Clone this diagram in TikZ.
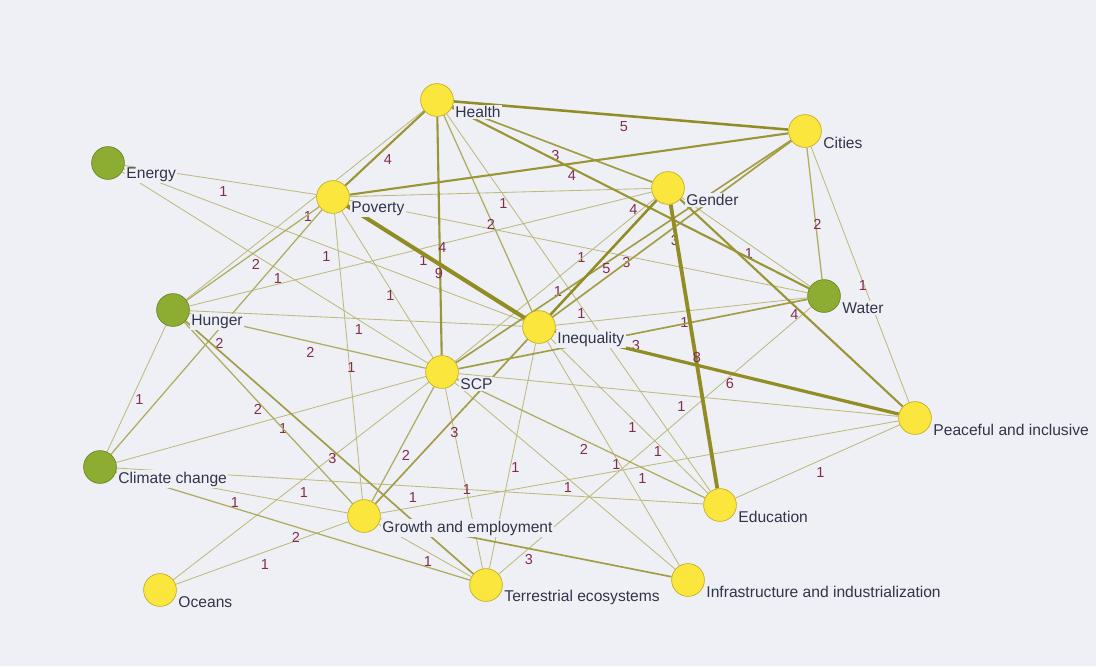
\documentclass[tikz,border=0pt]{standalone}
\usepackage{fontspec}
\setmainfont{Liberation Sans}
\usetikzlibrary{positioning}

\definecolor{bgcol}{RGB}{239,240,245}
\definecolor{edgecol}{RGB}{145,140,35}
\definecolor{nodey}{RGB}{250,230,60}
\definecolor{nodeyd}{RGB}{195,175,40}
\definecolor{nodeg}{RGB}{140,172,50}
\definecolor{nodegd}{RGB}{110,135,40}
\definecolor{wtcol}{RGB}{130,45,80}
\definecolor{txtcol}{RGB}{50,52,75}

\pgfdeclarelayer{back}
\pgfsetlayers{back,main}

\tikzset{
  yel/.style={circle, fill=nodey, draw=nodeyd, line width=.5pt, minimum size=.82cm, inner sep=0},
  grn/.style={circle, fill=nodeg, draw=nodegd, line width=.5pt, minimum size=.82cm, inner sep=0},
  lbl/.style={fill=bgcol, text=txtcol, inner sep=1pt, yshift=-.3cm, font=\fontsize{11.1}{13}\selectfont},
  wt/.style={midway, xshift=.07cm, yshift=-.28cm, text=wtcol, inner sep=0, font=\fontsize{10.3}{12}\selectfont},
  w1/.style={draw=edgecol!60, line width=.6pt},
  w2/.style={draw=edgecol!72, line width=.9pt},
  w3/.style={draw=edgecol!84, line width=1.2pt},
  w4/.style={draw=edgecol!92, line width=1.5pt},
  w5/.style={draw=edgecol, line width=1.8pt},
  w6/.style={draw=edgecol, line width=2.3pt},
  w8/.style={draw=edgecol, line width=2.7pt},
  w9/.style={draw=edgecol, line width=2.9pt}
}

\begin{document}
\begin{tikzpicture}[x=.025cm, y=-.025cm]
% goals
\node[yel] (health) at (437,100) {};
\node[yel] (cities) at (805,131) {};
\node[grn] (energy) at (108,163) {};
\node[yel] (poverty) at (333,197) {};
\node[yel] (gender) at (668,188) {};
\node[grn] (water) at (824,296) {};
\node[grn] (hunger) at (173,310) {};
\node[yel] (inequality) at (539,327) {};
\node[yel] (scp) at (442,372) {};
\node[yel] (peace) at (915,418) {};
\node[grn] (climate) at (100,467) {};
\node[yel] (education) at (720,505) {};
\node[yel] (growth) at (364,516) {};
\node[yel] (oceans) at (160,590) {};
\node[yel] (terrestrial) at (486,585) {};
\node[yel] (infra) at (688,580) {};

\node[lbl, right=0pt of health] (lhealth) {Health};
\node[lbl, right=0pt of cities] (lcities) {Cities};
\node[lbl, right=0pt of energy] (lenergy) {Energy};
\node[lbl, right=0pt of poverty] (lpoverty) {Poverty};
\node[lbl, right=0pt of gender] (lgender) {Gender};
\node[lbl, right=0pt of water] (lwater) {Water};
\node[lbl, right=0pt of hunger] (lhunger) {Hunger};
\node[lbl, right=0pt of inequality] (linequality) {Inequality};
\node[lbl, right=0pt of scp] (lscp) {SCP};
\node[lbl, right=0pt of peace] (lpeace) {Peaceful and inclusive};
\node[lbl, right=0pt of climate] (lclimate) {Climate change};
\node[lbl, right=0pt of education] (leducation) {Education};
\node[lbl, right=0pt of growth] (lgrowth) {Growth and employment};
\node[lbl, right=0pt of oceans] (loceans) {Oceans};
\node[lbl, right=0pt of terrestrial] (lterrestrial) {Terrestrial ecosystems};
\node[lbl, right=0pt of infra] (linfra) {Infrastructure and industrialization};

\begin{pgfonlayer}{back}
\fill[bgcol] (0,0) rectangle (1096,666);
% links of weight 1
\draw[w1] (energy) -- node[wt]{1} (poverty);
\draw[w1] (health) -- node[wt]{1} (hunger);
\draw[w1] (poverty) -- node[wt]{1} (gender);
\draw[w1] (gender) -- node[wt]{1} (water);
\draw[w1] (cities) -- node[wt]{1} (peace);
\draw[w1] (hunger) -- node[wt]{1} (gender);
\draw[w1] (energy) -- node[wt]{1} (scp);
\draw[w1] (energy) -- node[wt]{1} (inequality);
\draw[w1] (poverty) -- node[wt]{1} (scp);
\draw[w1] (hunger) -- node[wt]{1} (inequality);
\draw[w1] (poverty) -- node[wt]{1} (growth);
\draw[w1] (hunger) -- node[wt]{1} (climate);
\draw[w1] (oceans) -- node[wt]{1} (scp);
\draw[w1] (climate) -- node[wt]{1} (growth);
\draw[w1] (climate) -- node[wt]{1} (education);
\draw[w1] (scp) -- node[wt]{1} (terrestrial);
\draw[w1] (oceans) -- node[wt]{1} (growth);
\draw[w1] (growth) -- node[wt]{1} (terrestrial);
\draw[w1] (inequality) -- node[wt]{1} (terrestrial);
\draw[w1] (scp) -- node[wt]{1} (infra);
\draw[w1] (inequality) -- node[wt]{1} (infra);
\draw[w1] (growth) -- node[wt]{1} (peace);
\draw[w1] (water) -- node[wt]{1} (terrestrial);
\draw[w1] (inequality) -- node[wt]{1} (education);
\draw[w1] (scp) -- node[wt]{1} (peace);
\draw[w1] (education) -- node[wt]{1} (peace);
\draw[w1] (poverty) -- node[wt]{1} (water);
\draw[w1] (gender) -- node[wt]{1} (scp);
\draw[w1] (health) -- node[wt]{1} (education);
\draw[w1] (inequality) -- node[wt]{1} (water);
\draw[w1] (climate) -- node[wt, pos=.53]{1} (scp);
% heavier links
\draw[w2] (health) -- node[wt]{2} (inequality);
\draw[w2] (cities) -- node[wt]{2} (water);
\draw[w2] (poverty) -- node[wt]{2} (hunger);
\draw[w2] (hunger) -- node[wt]{2} (scp);
\draw[w2] (poverty) -- node[wt]{2} (climate);
\draw[w2] (scp) -- node[wt]{2} (growth);
\draw[w2] (climate) -- node[wt]{2} (terrestrial);
\draw[w2] (scp) -- node[wt]{2} (education);
\draw[w2] (hunger) -- node[wt, pos=.42]{2} (growth);
\draw[w3] (health) -- node[wt]{3} (gender);
\draw[w3] (inequality) -- node[wt]{3} (growth);
\draw[w3] (hunger) -- node[wt]{3} (terrestrial);
\draw[w3] (growth) -- node[wt]{3} (infra);
\draw[w3] (cities) -- node[wt]{3} (scp);
\draw[w3] (cities) -- node[wt]{3} (inequality);
\draw[w3] (scp) -- node[wt]{3} (water);
\draw[w4] (health) -- node[wt]{4} (poverty);
\draw[w4] (poverty) -- node[wt]{4} (cities);
\draw[w4] (health) -- node[wt]{4} (water);
\draw[w4] (gender) -- node[wt]{4} (peace);
\draw[w4] (health) -- node[wt]{4} (scp);
\draw[w5] (health) -- node[wt]{5} (cities);
\draw[w5] (gender) -- node[wt]{5} (inequality);
\draw[w6] (inequality) -- node[wt]{6} (peace);
\draw[w8] (gender) -- node[wt]{8} (education);
\draw[w9] (poverty) -- node[wt]{9} (inequality);
\end{pgfonlayer}
\end{tikzpicture}
\end{document}
